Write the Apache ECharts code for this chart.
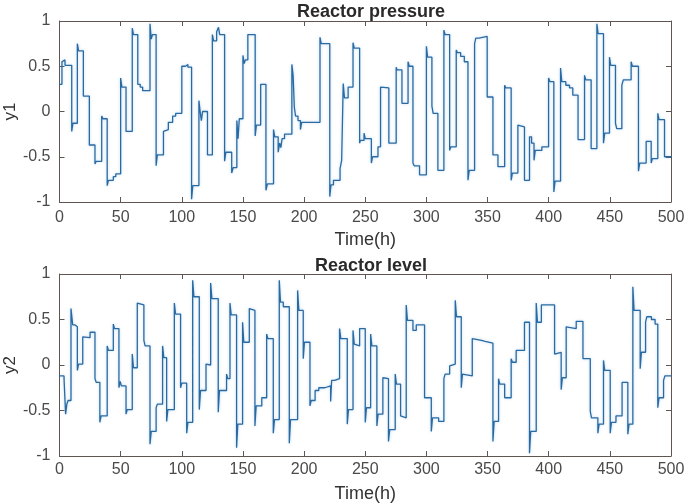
<!DOCTYPE html>
<html><head><meta charset="utf-8">
<script src="https://cdn.jsdelivr.net/npm/echarts@6/dist/echarts.min.js"></script>
<style>html,body{margin:0;padding:0;background:#fff}#c{width:685px;height:503px}</style>
</head><body><div id="c"></div>
<script>
const titles = ["Reactor pressure", "Reactor level"];
const yNames = ["y1", "y2"];
const xName = "Time(h)";
const xTicks = [0, 50, 100, 150, 200, 250, 300, 350, 400, 450, 500];
const yTicks = [-1, -0.5, 0, 0.5, 1];

// Reactor pressure: change times (h) and values held until next time
const pressureT = [0,2,3,4.5,10,11,14.6,15.6,19.5,24.4,29,30,34.5,35.5,39,40,44,46,50,51,54.4,59.5,60.5,64,66,68,74,75,76,79,80,85,86,89,92.5,95,100,103,105,108,109,114,115,116,117,121,125,126,128.5,130,131,135,136,140.8,142,145,146,147,150,151,152,154,160,161,164.5,168.8,170,175,176,178.8,180,181,182,184,190,191,192,193,195,197,198,213,214,221,222,224,229.4,230.7,232,233,236,240,241,245.4,246,249,250,255,256,260.4,262.5,264,269.3,275.3,276,280,285,286,289,290,294.4,300,301,304.5,305.5,309.4,314.3,315.3,319,320,324.4,325.4,328,331,334,335,339.4,340.4,343,349.7,354.4,358.5,364,365,369.3,370.3,374.8,375.8,380.2,384.3,386,388,389,394.4,399.9,401,404.2,405.2,409.7,410.7,414,417,419.7,424,429.3,430.3,434.7,439.4,440.4,444.8,445.8,449.7,450.7,454.6,455.6,459.8,461,467.4,468.4,473.4,474.4,479.7,483.8,484.8,489.2,490.2,494.7,500];
const pressureY = [0.30,0.55,0.57,0.51,-0.22,-0.13,0.75,0.67,0.17,-0.37,-0.58,-0.55,-0.05,-0.08,-0.82,-0.76,-0.72,-0.69,0.37,0.27,-0.22,0.92,0.85,0.30,0.27,0.23,0.97,0.80,0.85,-0.60,-0.48,-0.22,-0.20,-0.12,-0.05,-0.02,0.50,0.52,0.49,-0.97,-0.82,0.12,0.0,-0.1,0.0,-0.48,0.85,0.78,0.88,0.93,0.85,-0.55,-0.45,-0.68,-0.62,-0.1,-0.3,-0.08,0.62,0.53,0.57,0.85,-0.27,-0.15,0.30,-0.87,-0.80,-0.2,-0.28,-0.45,-0.35,-0.4,-0.3,-0.25,0.52,0.40,0.05,-0.05,-0.1,-0.2,-0.12,0.82,0.75,-0.94,-0.81,-0.76,-0.63,-0.54,0.31,0.15,0.27,0.76,0.70,-0.35,-0.32,-0.24,-0.30,-0.57,-0.50,-0.39,0.27,0.26,-0.35,0.49,0.46,0.09,0.55,0.50,-0.57,-0.60,-0.70,0.72,0.60,0.06,-0.02,-0.65,0.90,0.85,-0.43,-0.39,0.68,0.65,0.61,0.55,-0.76,-0.65,0.75,0.81,0.83,0.16,-0.48,-0.61,0.29,0.26,-0.76,-0.68,-0.15,-0.17,-0.76,-0.28,-0.35,-0.54,-0.43,-0.39,0.37,0.33,-0.89,-0.77,0.48,0.33,0.29,0.26,0.18,-0.31,0.40,0.35,-0.41,0.97,0.86,-0.35,-0.24,0.60,0.51,-0.13,-0.19,0.29,0.35,0.55,0.50,-0.66,-0.57,-0.33,-0.57,-0.52,-0.02,-0.09,-0.50,-0.50];

// Reactor level
const levelT = [0,3.7,5,6,7,9.4,10.8,12.7,14.6,15.6,19,20,25,29,30,33,34,39,40,44,45,48.6,49.6,50.6,54.4,55.4,59.5,60.5,63.6,64.6,69,70,74,75,79,80,84.3,85.3,87.6,88.6,93.9,94.9,99,100,104,105,108.9,109.9,114.3,115.3,119.8,120.8,123.6,124.6,129.8,130.8,136.6,137.6,139.4,140.4,144.8,145.8,149.7,150.7,155.2,156.2,159.8,160.8,165.4,169.4,170.4,174.8,175.8,179.7,180.7,183,187.9,188.9,194.7,195.7,199.3,200.3,204.8,205.8,209,212,217,221.7,222.5,225,229,230,235.3,236.3,240,241,242,245.4,250,251,254.4,255.4,259.5,260.5,264.4,265.4,269,270,274.5,275.5,278.9,279.9,283.5,284.5,289,291.7,298.5,304,305,310,314.3,315.3,319,320,323.6,324.6,328.5,329.5,331,337.5,338.5,345,348,354.4,355.4,359,360,364,369.3,370.3,373.4,380.2,384.3,385.3,389.8,390.8,394,404.8,405.8,410.2,411.2,414.3,415.3,422.5,428,434,435,440.2,441.2,444.8,445.8,450.3,451.3,455,460,464.7,465.7,468.8,469.8,474.8,475.8,479.2,480.2,484,487,489.2,490.2,493.9,495,500];
const levelY = [-0.12,-0.15,-0.54,-0.43,-0.39,0.62,0.44,0.42,-0.06,0.01,0.31,0.30,0.36,-0.15,-0.19,-0.63,-0.56,0.21,0.16,0.45,0.40,-0.25,-0.18,-0.23,-0.54,-0.49,0.12,-0.03,0.68,0.66,0.27,0.21,-0.87,-0.73,-0.47,-0.43,0.21,0.08,-0.62,-0.49,0.68,0.56,-0.25,-0.20,-0.75,-0.63,0.93,0.75,-0.49,-0.28,0.01,0.0,0.90,0.73,-0.52,-0.28,-0.10,-0.15,0.68,0.55,-0.91,-0.65,0.47,0.25,0.62,0.60,-0.67,-0.45,-0.36,0.34,0.29,-0.75,-0.60,0.93,0.69,0.64,-0.86,-0.60,0.82,0.60,0.07,0.25,-0.45,-0.39,-0.28,-0.25,-0.23,-0.40,-0.17,-0.15,0.40,0.29,-0.65,-0.49,0.38,0.23,0.21,0.40,-0.63,-0.47,0.34,0.21,-0.67,-0.54,-0.14,-0.15,-0.84,-0.71,-0.10,-0.21,-0.56,-0.58,0.66,0.49,0.38,0.44,-0.36,-0.73,-0.58,-0.62,-0.15,-0.10,-0.01,0.01,0.71,0.53,-0.25,-0.10,-0.12,0.29,0.27,0.26,0.24,-0.84,-0.62,-0.15,-0.21,-0.36,0.07,0.03,0.16,0.47,-0.97,-0.73,0.68,0.47,0.66,0.12,0.14,-0.27,-0.14,0.42,0.40,0.48,0.07,-0.51,-0.58,-0.75,-0.65,0.05,-0.06,-0.75,-0.63,-0.56,-0.19,-0.76,-0.65,0.86,0.60,-0.04,0.14,0.47,0.53,0.50,0.45,-0.47,-0.36,-0.17,-0.12,-0.12];

// staircase: each value is held until the next change time
function stairs(ts, ys) {
  const n = Math.min(ts.length, ys.length);
  const out = [[ts[0], ys[0]]];
  for (let i = 1; i < n; i++) {
    out.push([ts[i], ys[i - 1]]);
    out.push([ts[i], ys[i]]);
  }
  return out;
}
const FONT = '"Liberation Sans", Arial, sans-serif';
const AX = '#5f5551';
const TXT = '#4a4a4a';

const grids = [
  {left: 59.5, right: 14, top: 21, height: 181, containLabel: false, outerBoundsMode: 'none'},
  {left: 59.5, right: 14, top: 274, height: 182, containLabel: false, outerBoundsMode: 'none'}
];
const boxLine = {show: true, onZero: false, lineStyle: {color: AX, width: 1}};
const tick = {show: true, inside: true, length: 5, lineStyle: {color: AX}};
const xAxes = [], yAxes = [], series = [];
[0, 1].forEach(g => {
  xAxes.push({
    type: 'value', gridIndex: g, position: 'bottom', min: xTicks[0], max: xTicks[xTicks.length - 1], interval: 50,
    name: xName, nameLocation: 'middle', nameGap: 29, nameMoveOverlap: false,
    nameTextStyle: {fontFamily: FONT, fontSize: 18, color: '#333'},
    axisLine: boxLine, axisTick: tick,
    axisLabel: {fontFamily: FONT, fontSize: 16, color: TXT, margin: g === 0 ? 8 : 6},
    splitLine: {show: false}
  });
  xAxes.push({
    type: 'value', gridIndex: g, position: 'top', min: 0, max: 500, interval: 50,
    axisLine: boxLine, axisTick: tick,
    axisLabel: {show: false}, splitLine: {show: false}
  });
  yAxes.push({
    type: 'value', gridIndex: g, position: 'left', min: -1, max: 1, interval: 0.5,
    name: yNames[g], nameLocation: 'middle', nameGap: 41, nameRotate: 90, nameMoveOverlap: false,
    nameTextStyle: {fontFamily: FONT, fontSize: 17, color: '#333'},
    axisLine: boxLine, axisTick: tick,
    axisLabel: {fontFamily: FONT, fontSize: 16, color: TXT, margin: 9,
      formatter: v => yTicks.includes(v) ? String(v) : ''},
    splitLine: {show: false}
  });
  yAxes.push({
    type: 'value', gridIndex: g, position: 'right', min: -1, max: 1, interval: 0.5,
    axisLine: boxLine, axisTick: tick,
    axisLabel: {show: false}, splitLine: {show: false}
  });
});
const lineStyle = {color: '#2a6aa3', width: 1.3, shadowBlur: 3, shadowColor: 'rgba(60,140,210,0.35)'};
series.push({
  type: 'line', xAxisIndex: 0, yAxisIndex: 0, showSymbol: false,
  data: stairs(pressureT, pressureY), animation: false, lineStyle: lineStyle
});
series.push({
  type: 'line', xAxisIndex: 2, yAxisIndex: 2, showSymbol: false,
  data: stairs(levelT, levelY), animation: false, lineStyle: lineStyle
});

const chart = echarts.init(document.getElementById('c'), null, {renderer: 'canvas'});
chart.setOption({
  animation: false,
  backgroundColor: '#fff',
  title: [
    {text: titles[0], left: 366, top: -2, textAlign: 'center',
      textStyle: {fontFamily: FONT, fontSize: 18, fontWeight: 'bold', color: '#2a2a2a'}},
    {text: titles[1], left: 366, top: 252, textAlign: 'center',
      textStyle: {fontFamily: FONT, fontSize: 18, fontWeight: 'bold', color: '#2a2a2a'}}
  ],
  grid: grids, xAxis: xAxes, yAxis: yAxes, series: series
});
</script></body></html>
